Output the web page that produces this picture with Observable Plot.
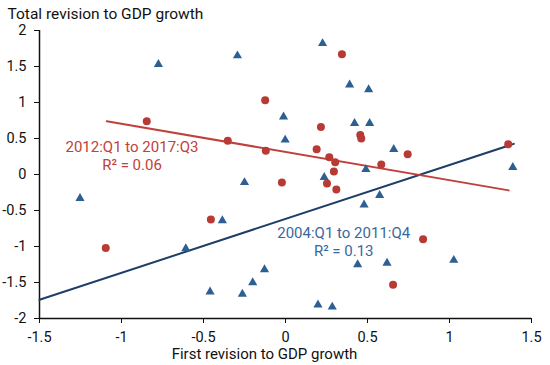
<!DOCTYPE html>
<html>
<head>
<meta charset="utf-8">
<script src="https://cdn.jsdelivr.net/npm/d3@7"></script>
<script src="https://cdn.jsdelivr.net/npm/@observablehq/plot@0.6"></script>
<style>
  body { margin: 0; background: #fff; }
</style>
</head>
<body>
<div id="chart"></div>
<script>
// 2004:Q1 to 2011:Q4 (blue triangles)
const blueX = [-1.253, -0.775, -0.293, 0.226, 0.391, 0.507, -0.012, 0.421, 0.513, -0.002, 0.66, 0.49, 0.236, 0.574, 0.479, 1.386, -0.25, -0.385, -0.608, -0.128, -0.20, -0.46, -0.263, 0.44, 0.619, 1.026, 0.198, 0.285];
const blueY = [-0.33, 1.53, 1.65, 1.82, 1.245, 1.18, 0.80, 0.71, 0.71, 0.48, 0.35, 0.07, -0.04, -0.29, -0.42, 0.10, -0.11, -0.64, -1.03, -1.32, -1.50, -1.63, -1.66, -1.25, -1.23, -1.19, -1.81, -1.84];
// 2012:Q1 to 2017:Q3 (red circles)
const redX = [-0.846, -0.124, -0.352, -0.12, 0.344, 0.216, 0.456, 0.462, 0.19, 0.267, 0.303, 0.295, 0.584, 0.745, -0.022, 0.253, 0.31, 1.358, -0.455, -1.096, 0.839, 0.656];
const redY = [0.74, 1.03, 0.47, 0.33, 1.67, 0.66, 0.55, 0.50, 0.35, 0.24, 0.17, 0.04, 0.14, 0.28, -0.11, -0.125, -0.21, 0.42, -0.625, -1.02, -0.90, -1.53];

// regression fits
const fitSeries = ["blue", "red"];
const fitSlope = [0.749, -0.392];
const fitIntercept = [-0.617, 0.313];
const fitXmin = [-1.5, -1.09];
const fitXmax = [1.392, 1.361];
const fitLabel = ["2004:Q1 to 2011:Q4\nR² = 0.13", "2012:Q1 to 2017:Q3\nR² = 0.06"];
const labelX = [0.355, -0.936];
const labelY = [-0.93, 0.264];

const xTicks = [-1.5, -1, -0.5, 0, 0.5, 1, 1.5];
const yTicks = [-2, -1.5, -1, -0.5, 0, 0.5, 1, 1.5, 2];
const yTitle = "Total revision to GDP growth";
const xTitle = "First revision to GDP growth";

const colors = {
  blue: {pt: "#2d5f92", line: "#1f3d66", text: "#3a689a"},
  red: {pt: "#b83a35", line: "#c0413b", text: "#c0413b"}
};

const blue = blueX.map((x, i) => ({x, y: blueY[i]}));
const red = redX.map((x, i) => ({x, y: redY[i]}));
const fitLines = fitSeries.flatMap((s, i) => [
  {s, x: fitXmin[i], y: fitIntercept[i] + fitSlope[i] * fitXmin[i]},
  {s, x: fitXmax[i], y: fitIntercept[i] + fitSlope[i] * fitXmax[i]}
]);
const labels = fitSeries.map((s, i) => ({s, x: labelX[i], y: labelY[i], t: fitLabel[i]}));

const chart = Plot.plot({
  width: 550,
  height: 365,
  marginLeft: 39,
  marginRight: 19,
  marginTop: 30,
  marginBottom: 47,
  style: {fontFamily: "Roboto, sans-serif", fontSize: "14.5px", color: "#111", background: "#fff"},
  x: {domain: [-1.5, 1.5]},
  y: {domain: [-2, 2]},
  marks: [
    Plot.axisX({ticks: xTicks, tickSize: 5, tickPadding: 8, tickFormat: d => String(d), label: null, fontSize: 14.5}),
    Plot.axisY({ticks: yTicks, tickSize: 5, tickPadding: 8, tickFormat: d => String(d), label: null, fontSize: 14.5}),
    Plot.ruleX([-1.5], {stroke: "#111", strokeWidth: 1.5}),
    Plot.ruleY([-2], {stroke: "#111", strokeWidth: 1.5}),
    Plot.line(fitLines.filter(d => d.s === "blue"), {x: "x", y: "y", stroke: colors.blue.line, strokeWidth: 2}),
    Plot.line(fitLines.filter(d => d.s === "red"), {x: "x", y: "y", stroke: colors.red.line, strokeWidth: 2}),
    Plot.dot(blue, {x: "x", y: "y", symbol: "triangle", r: 3.4, fill: colors.blue.pt, stroke: "none"}),
    Plot.dot(red, {x: "x", y: "y", symbol: "circle", r: 4, fill: colors.red.pt, stroke: "none"}),
    Plot.text(labels, {x: "x", y: "y", text: "t", fill: d => colors[d.s].text, fontSize: 15, lineHeight: 1.22, textAnchor: "middle"}),
    Plot.text([yTitle], {frameAnchor: "top-left", dx: -32, dy: -16, textAnchor: "start", lineAnchor: "middle", fontSize: 15.5, fill: "#111"}),
    Plot.text([xTitle], {frameAnchor: "bottom", dx: -21, dy: 36, textAnchor: "middle", lineAnchor: "middle", fontSize: 15, fill: "#111"})
  ]
});
document.getElementById("chart").appendChild(chart);
</script>
</body>
</html>
